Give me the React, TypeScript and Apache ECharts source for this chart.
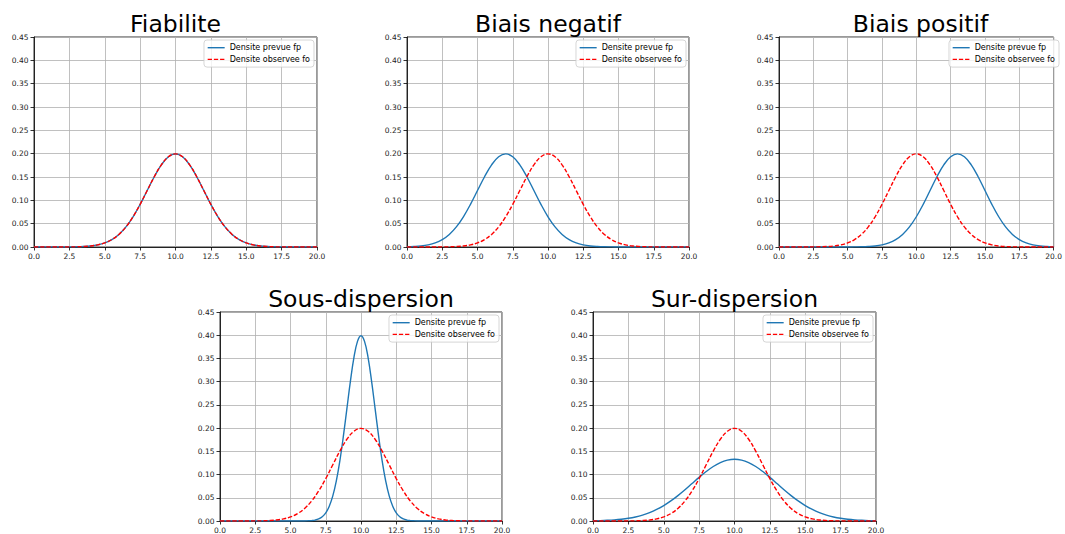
import React, { useEffect, useRef } from "react";
import * as echarts from "echarts";

// ---- data ----
const xs = [
  0, 0.5, 1, 1.5, 2, 2.5, 3, 3.5, 4, 4.5, 5, 5.5, 6, 6.5, 7, 7.5, 8, 8.5, 9, 9.5,
  10, 10.5, 11, 11.5, 12, 12.5, 13, 13.5, 14, 14.5, 15, 15.5, 16, 16.5, 17, 17.5,
  18, 18.5, 19, 19.5, 20,
];

// densite observee fo (same in every panel)
const foObservee = [
  0, 0, 0, 0, 0.0001, 0.0002, 0.0004, 0.001, 0.0022, 0.0046, 0.0088, 0.0159, 0.027,
  0.0431, 0.0648, 0.0913, 0.121, 0.1506, 0.176, 0.1933, 0.1995, 0.1933, 0.176,
  0.1506, 0.121, 0.0913, 0.0648, 0.0431, 0.027, 0.0159, 0.0088, 0.0046, 0.0022,
  0.001, 0.0004, 0.0002, 0.0001, 0, 0, 0, 0,
];

const fpFiabilite = [
  0, 0, 0, 0, 0.0001, 0.0002, 0.0004, 0.001, 0.0022, 0.0046, 0.0088, 0.0159, 0.027,
  0.0431, 0.0648, 0.0913, 0.121, 0.1506, 0.176, 0.1933, 0.1995, 0.1933, 0.176,
  0.1506, 0.121, 0.0913, 0.0648, 0.0431, 0.027, 0.0159, 0.0088, 0.0046, 0.0022,
  0.001, 0.0004, 0.0002, 0.0001, 0, 0, 0, 0,
];

const fpBiaisNegatif = [
  0.0004, 0.001, 0.0022, 0.0046, 0.0088, 0.0159, 0.027, 0.0431, 0.0648, 0.0913,
  0.121, 0.1506, 0.176, 0.1933, 0.1995, 0.1933, 0.176, 0.1506, 0.121, 0.0913,
  0.0648, 0.0431, 0.027, 0.0159, 0.0088, 0.0046, 0.0022, 0.001, 0.0004, 0.0002,
  0.0001, 0, 0, 0, 0, 0, 0, 0, 0, 0, 0,
];

const fpBiaisPositif = [
  0, 0, 0, 0, 0, 0, 0, 0, 0, 0, 0.0001, 0.0002, 0.0004, 0.001, 0.0022, 0.0046,
  0.0088, 0.0159, 0.027, 0.0431, 0.0648, 0.0913, 0.121, 0.1506, 0.176, 0.1933,
  0.1995, 0.1933, 0.176, 0.1506, 0.121, 0.0913, 0.0648, 0.0431, 0.027, 0.0159,
  0.0088, 0.0046, 0.0022, 0.001, 0.0004,
];

const xsSous = [
  0, 6, 6.25, 6.5, 6.75, 7, 7.25, 7.5, 7.75, 8, 8.25, 8.5, 8.75, 9, 9.25, 9.5, 9.75,
  10, 10.25, 10.5, 10.75, 11, 11.25, 11.5, 11.75, 12, 12.25, 12.5, 12.75, 13, 13.25,
  13.5, 13.75, 14, 20,
];
const fpSousDispersion = [
  0, 0.0001, 0.0004, 0.0009, 0.002, 0.0044, 0.0091, 0.0175, 0.0317, 0.054, 0.0863,
  0.1295, 0.1826, 0.242, 0.3011, 0.3521, 0.3867, 0.3989, 0.3867, 0.3521, 0.3011,
  0.242, 0.1826, 0.1295, 0.0863, 0.054, 0.0317, 0.0175, 0.0091, 0.0044, 0.002,
  0.0009, 0.0004, 0.0001, 0,
];

const fpSurDispersion = [
  0.0005, 0.0009, 0.0015, 0.0024, 0.0038, 0.0058, 0.0087, 0.0127, 0.018, 0.0248,
  0.0332, 0.0432, 0.0547, 0.0673, 0.0807, 0.094, 0.1065, 0.1174, 0.1258, 0.1311,
  0.133, 0.1311, 0.1258, 0.1174, 0.1065, 0.094, 0.0807, 0.0673, 0.0547, 0.0432,
  0.0332, 0.0248, 0.018, 0.0127, 0.0087, 0.0058, 0.0038, 0.0024, 0.0015, 0.0009,
  0.0005,
];

const titles = ["Fiabilite", "Biais negatif", "Biais positif", "Sous-dispersion", "Sur-dispersion"];
const seriesNames = ["Densite prevue fp", "Densite observee fo"];
const xTicks = [0, 2.5, 5, 7.5, 10, 12.5, 15, 17.5, 20];
const yTicks = [0, 0.05, 0.1, 0.15, 0.2, 0.25, 0.3, 0.35, 0.4, 0.45];

const fpList = [
  { x: xs, y: fpFiabilite },
  { x: xs, y: fpBiaisNegatif },
  { x: xs, y: fpBiaisPositif },
  { x: xsSous, y: fpSousDispersion },
  { x: xs, y: fpSurDispersion },
];

// ---- layout ----
const W = 1065;
const H = 534;
const FONT = "'DejaVu Sans', sans-serif";
const layout = [
  { left: 34, top: 37, width: 283, height: 210 },
  { left: 407, top: 37, width: 282, height: 210 },
  { left: 779, top: 37, width: 283, height: 210 },
  { left: 220, top: 312, width: 282, height: 210 },
  { left: 593, top: 312, width: 283, height: 210 },
];

const zip = (a: number[], b: number[]) => a.map((v, i) => [v, b[i]]);

function buildOption() {
  const grid: any[] = [];
  const xAxis: any[] = [];
  const yAxis: any[] = [];
  const series: any[] = [];
  const legend: any[] = [];
  const graphic: any[] = [];

  layout.forEach((g, i) => {
    grid.push({
      left: g.left,
      top: g.top,
      width: g.width,
      height: g.height,
      show: true,
      borderColor: "#000",
      borderWidth: 0.8,
      backgroundColor: "transparent",
    });
    xAxis.push({
      type: "value",
      gridIndex: i,
      min: xTicks[0],
      max: xTicks[xTicks.length - 1],
      interval: 2.5,
      axisLine: { show: true, onZero: false, lineStyle: { color: "#000", width: 0.8 } },
      axisTick: { show: true, length: 3.5, lineStyle: { color: "#000", width: 0.8 } },
      splitLine: { show: true, lineStyle: { color: "#b0b0b0", width: 0.8 } },
      axisLabel: {
        fontFamily: FONT,
        fontSize: 7.5,
        color: "#222",
        margin: 5,
        interval: 0,
        showMinLabel: true,
        showMaxLabel: true,
        formatter: (v: number) => v.toFixed(1),
      },
    });
    yAxis.push({
      type: "value",
      gridIndex: i,
      min: yTicks[0],
      max: yTicks[yTicks.length - 1],
      interval: 0.05,
      axisLine: { show: true, lineStyle: { color: "#000", width: 0.8 } },
      axisTick: { show: true, length: 3.5, lineStyle: { color: "#000", width: 0.8 } },
      splitLine: { show: true, lineStyle: { color: "#b0b0b0", width: 0.8 } },
      axisLabel: {
        fontFamily: FONT,
        fontSize: 7.5,
        color: "#222",
        margin: 5.5,
        interval: 0,
        showMinLabel: true,
        showMaxLabel: true,
        formatter: (v: number) => v.toFixed(2),
      },
    });
    series.push({
      type: "line",
      name: seriesNames[0],
      xAxisIndex: i,
      yAxisIndex: i,
      data: zip(fpList[i].x, fpList[i].y),
      symbol: "none",
      showSymbol: false,
      smooth: 0.4,
      lineStyle: { color: "#1f77b4", width: 1.4 },
      itemStyle: { color: "#1f77b4" },
      z: 3,
    });
    series.push({
      type: "line",
      name: seriesNames[1],
      xAxisIndex: i,
      yAxisIndex: i,
      data: zip(xs, foObservee),
      symbol: "none",
      showSymbol: false,
      smooth: 0.4,
      lineStyle: { color: "#ff0000", width: 1.4, type: [4.3, 1.9] },
      itemStyle: { color: "#ff0000" },
      z: 4,
    });
    legend.push({
      orient: "vertical",
      right: W - (g.left + g.width) + 3,
      top: g.top + 3,
      data: seriesNames,
      itemWidth: 17,
      itemHeight: 8,
      itemGap: 3.7,
      padding: [3.7, 4, 3.7, 3],
      selectedMode: false,
      itemStyle: { opacity: 0 },
      lineStyle: { width: 1.4 },
      textStyle: { fontFamily: FONT, fontSize: 8, color: "#000", lineHeight: 8 },
      borderColor: "#cccccc",
      borderWidth: 0.8,
      borderRadius: 3,
      backgroundColor: "rgba(255,255,255,0.8)",
      z: 10,
    });
    graphic.push({
      type: "text",
      x: g.left + g.width / 2,
      y: g.top - 13,
      style: {
        text: titles[i],
        fontFamily: FONT,
        fontSize: 23.5,
        fill: "#000",
        align: "center",
        verticalAlign: "middle",
      },
    });
  });

  return {
    animation: false,
    backgroundColor: "#fff",
    grid,
    xAxis,
    yAxis,
    series,
    legend,
    graphic,
  };
}

export default function App() {
  const ref = useRef<HTMLDivElement>(null);
  useEffect(() => {
    if (!ref.current) return;
    const chart = echarts.init(ref.current, undefined, { renderer: "svg" });
    chart.setOption(buildOption() as any);
    return () => chart.dispose();
  }, []);
  return (
    <div
      ref={ref}
      style={{ position: "fixed", left: 0, top: 0, width: W, height: H, background: "#fff" }}
    />
  );
}
